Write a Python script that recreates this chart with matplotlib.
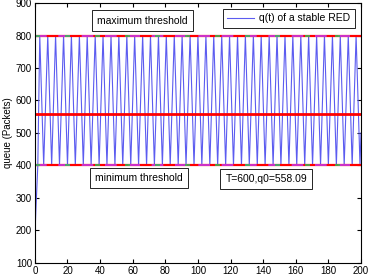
import matplotlib
matplotlib.use("Agg")
import matplotlib.pyplot as plt

plt.rcParams['font.family'] = ['Liberation Sans', 'DejaVu Sans']

# vertices of q(t)
start_x = [0.0, 0.6, 1.2, 1.8]
start_y = [180, 260, 330, 400]
peak_x = [3.0, 7.9, 12.7, 17.6, 22.4, 27.3, 32.1, 37.0, 41.8, 46.7, 51.5, 56.4,
          61.2, 66.1, 70.9, 75.8, 80.6, 85.5, 90.3, 95.2, 100.0, 104.9, 109.7,
          114.6, 119.4, 124.3, 129.1, 134.0, 138.8, 143.7, 148.5, 153.4, 158.2,
          163.1, 167.9, 172.8, 177.6, 182.5, 187.3, 192.2, 197.0]
trough_x = [5.4, 10.3, 15.1, 20.0, 24.8, 29.7, 34.5, 39.4, 44.2, 49.1, 53.9,
            58.8, 63.6, 68.5, 73.3, 78.2, 83.0, 87.9, 92.7, 97.6, 102.4, 107.3,
            112.1, 117.0, 121.8, 126.7, 131.5, 136.4, 141.2, 146.1, 150.9, 155.8,
            160.6, 165.5, 170.3, 175.2, 180.0, 184.9, 189.7, 194.6, 199.4]
peak_val = 800
trough_val = 400
end_x = [200.0]
end_y = [500]

q0 = 558.09
max_th = 800
min_th = 400

xs = list(start_x)
ys = list(start_y)
for p, t in zip(peak_x, trough_x):
    xs += [p, t]
    ys += [peak_val, trough_val]
xs += end_x
ys += end_y

fig = plt.figure(figsize=(3.71, 2.75), dpi=100)
ax = fig.add_axes([0.094, 0.044, 0.879, 0.945])

ax.plot(xs, ys, color='#5c5cf0', lw=0.8, label='q(t) of a stable RED')
for th in (max_th, min_th):
    ax.plot([0, 200], [th, th], color='red', lw=1.6)
    ax.plot([0, 200], [th, th], color='#cc33cc', lw=1.4, ls=(0, (6, 6)))
    ax.plot([0, 200], [th, th], color='#33bb55', lw=1.2, ls=(0, (3, 15)))
ax.plot([0, 200], [q0, q0], color='red', lw=2)

ax.set_xlim(0, 200)
ax.set_ylim(100, 900)
ax.set_xticks(range(0, 201, 20))
ax.set_yticks(range(100, 901, 100))
ax.tick_params(direction='in', labelsize=7, length=3, pad=2, top=True, right=True)
ax.set_ylabel('queue (Packets)', fontsize=7, labelpad=2)

bbox = dict(boxstyle='square,pad=0.5', fc='white', ec='black', lw=0.6)
ax.text(66, 846, 'maximum threshold', fontsize=7.5, ha='center', va='center', bbox=bbox)
ax.text(64, 362, 'minimum threshold', fontsize=7.5, ha='center', va='center', bbox=bbox)
ax.text(142, 358, 'T=600,q0=558.09', fontsize=7.5, ha='center', va='center', bbox=bbox)

leg = ax.legend(loc='upper right', fontsize=7.5, handlelength=2.6, handletextpad=0.5,
                fancybox=False, edgecolor='black', framealpha=1, borderaxespad=0.6)
leg.get_frame().set_linewidth(0.6)

fig.savefig('out.png', dpi=100)
